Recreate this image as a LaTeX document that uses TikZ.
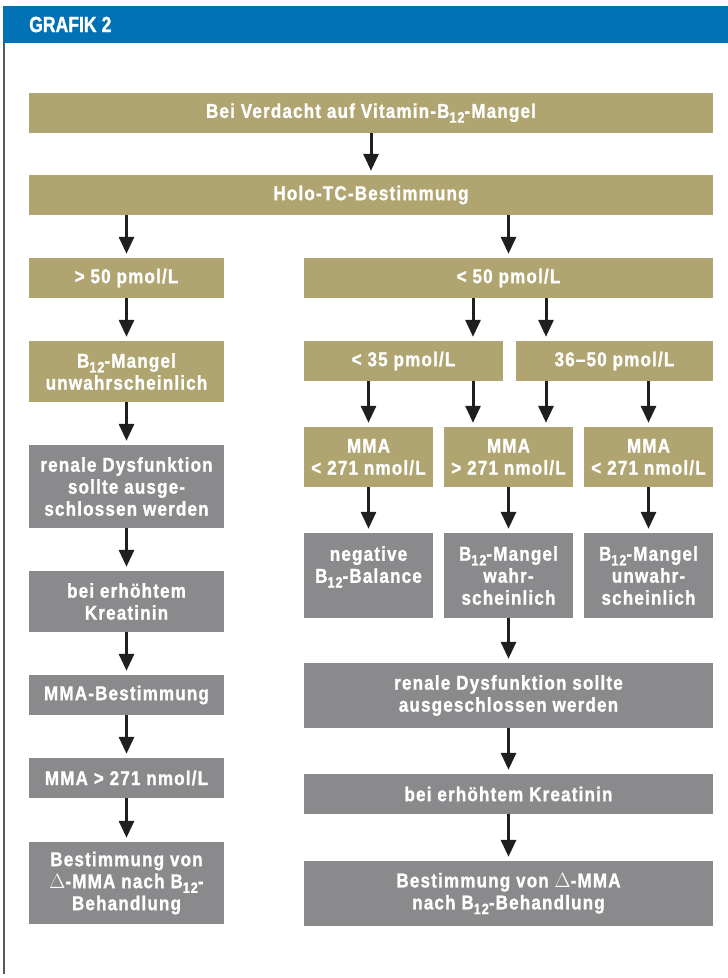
\documentclass[tikz,border=0pt]{standalone}
\usepackage{fontspec}
\setmainfont{Liberation Sans}[FakeStretch=0.85, LetterSpace=6, BoldFeatures={FakeBold=1.2}]
\newfontfamily\headfont{Liberation Sans}[FakeStretch=0.8, BoldFeatures={FakeBold=1.2}]
\usepackage{tikz}
\usetikzlibrary{arrows.meta}
\definecolor{boxtan}{RGB}{176,165,112}
\definecolor{boxgray}{RGB}{138,138,140}
\definecolor{headblue}{RGB}{0,113,180}
\newcommand{\Btw}{B\raisebox{-0.45ex}{\fontsize{15}{15}\selectfont 12}}

\begin{document}
\begin{tikzpicture}[x=1pt, y=-1pt, shorten >=4pt]
  \tikzstyle{tanbox}=[fill=boxtan, text=white, font=\bfseries\fontsize{20}{22}\selectfont, align=center, inner sep=0pt, minimum height=40pt]
  \tikzstyle{graybox}=[tanbox, fill=boxgray]
  \tikzstyle{arr}=[-{Triangle[width=15pt,length=17pt]}, line width=3pt, draw=black!88]
  \useasboundingbox (0,0) rectangle (728,978);
  % header and frame
  \fill[headblue] (3,6) rectangle (728,43);
  \draw[line width=1.5pt, draw=black!65] (4,43) -- (4,978);
  \node[anchor=west, text=white, inner sep=0pt, font=\headfont\bfseries\fontsize{22}{24}\selectfont] (title) at (29,24.5) {GRAFIK 2};
  % top
  \node[tanbox, minimum width=684pt] (T_1) at (371,113) {Bei Verdacht auf Vitamin-\Btw-Mangel};
  \node[tanbox, minimum width=684pt] (T_2) at (371,195) {Holo-TC-Bestimmung};
  % left column
  \node[tanbox, minimum width=195pt] (L_1) at (126.5,278) {> 50 pmol/L};
  \node[tanbox, minimum width=195pt, minimum height=61pt] (L_2) at (126.5,371.5) {\Btw-Mangel\\unwahrscheinlich};
  \node[graybox, minimum width=195pt, minimum height=83pt] (L_3) at (126.5,486.5) {renale Dysfunktion\\sollte ausge-\\schlossen werden};
  \node[graybox, minimum width=195pt, minimum height=61pt] (L_4) at (126.5,601.5) {bei erhöhtem\\Kreatinin};
  \node[graybox, minimum width=195pt] (L_5) at (126.5,695) {MMA-Bestimmung};
  \node[graybox, minimum width=195pt] (L_6) at (126.5,778) {MMA > 271 nmol/L};
  \node[graybox, minimum width=195pt, minimum height=82pt] (L_7) at (126.5,883) {Bestimmung von\\$\Delta$-MMA nach \Btw-\\Behandlung};
  % right column
  \node[tanbox, minimum width=409pt] (R_1) at (508.5,278) {< 50 pmol/L};
  \node[tanbox, minimum width=199pt] (R_2) at (403.5,361) {< 35 pmol/L};
  \node[tanbox, minimum width=197pt] (R_3) at (614.5,361) {36–50 pmol/L};
  \node[tanbox, minimum width=129pt, minimum height=60pt] (M_1) at (368.5,457) {MMA\\< 271 nmol/L};
  \node[tanbox, minimum width=129pt, minimum height=60pt] (M_2) at (508.5,457) {MMA\\> 271 nmol/L};
  \node[tanbox, minimum width=129pt, minimum height=60pt] (M_3) at (648.5,457) {MMA\\< 271 nmol/L};
  \node[graybox, minimum width=129pt, minimum height=85pt] (E_1) at (368.5,575.5) {negative\\\Btw-Balance\\\mbox{}};
  \node[graybox, minimum width=129pt, minimum height=85pt] (E_2) at (508.5,575.5) {\Btw-Mangel\\wahr-\\scheinlich};
  \node[graybox, minimum width=129pt, minimum height=85pt] (E_3) at (648.5,575.5) {\Btw-Mangel\\unwahr-\\scheinlich};
  \node[graybox, minimum width=409pt, minimum height=65pt] (R_4) at (508.5,695.5) {renale Dysfunktion sollte\\ausgeschlossen werden};
  \node[graybox, minimum width=409pt] (R_5) at (508.5,794) {bei erhöhtem Kreatinin};
  \node[graybox, minimum width=409pt, minimum height=65pt] (R_6) at (508.5,893.5) {Bestimmung von $\Delta$-MMA\\nach \Btw-Behandlung};
  \coordinate (X_1) at (473,0);
  \coordinate (X_2) at (546,0);
  % arrows
  \draw[arr] (T_1) -- (T_2);
  \draw[arr] (T_2.south -| L_1) -- (L_1);
  \draw[arr] (T_2.south -| R_1) -- (R_1);
  \draw[arr] (L_1) -- (L_2);
  \draw[arr] (L_2) -- (L_3);
  \draw[arr] (L_3) -- (L_4);
  \draw[arr] (L_4) -- (L_5);
  \draw[arr] (L_5) -- (L_6);
  \draw[arr] (L_6) -- (L_7);
  \draw[arr] (R_1.south -| X_1) -- (R_2.north -| X_1);
  \draw[arr] (R_1.south -| X_2) -- (R_3.north -| X_2);
  \draw[arr] (R_2.south -| M_1) -- (M_1);
  \draw[arr] (R_2.south -| X_1) -- (M_2.north -| X_1);
  \draw[arr] (R_3.south -| X_2) -- (M_2.north -| X_2);
  \draw[arr] (R_3.south -| M_3) -- (M_3);
  \draw[arr] (M_1) -- (E_1);
  \draw[arr] (M_2) -- (E_2);
  \draw[arr] (M_3) -- (E_3);
  \draw[arr] (E_2) -- (R_4);
  \draw[arr] (R_4) -- (R_5);
  \draw[arr] (R_5) -- (R_6);
\end{tikzpicture}
\end{document}
